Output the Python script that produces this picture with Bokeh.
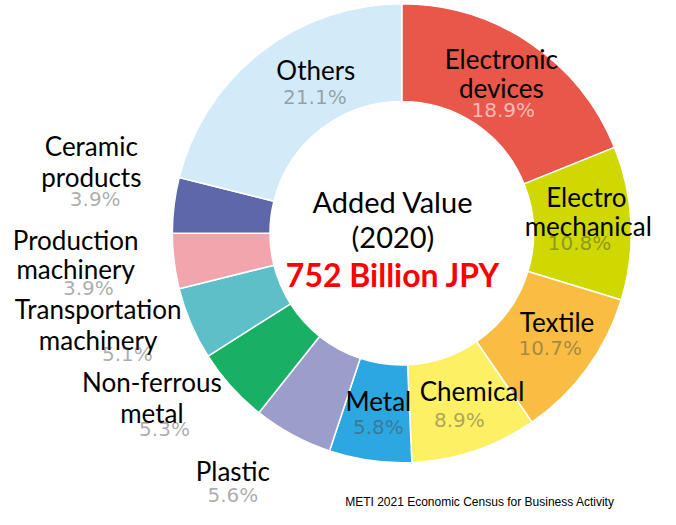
import numpy as np
from bokeh.plotting import figure
from bokeh.models import Range1d, ColumnDataSource
from bokeh.core.properties import value
from bokeh.embed import file_html
from bokeh.resources import INLINE

# ---- data ----
categories = ["Electronic devices", "Electro mechanical", "Textile", "Chemical", "Metal",
              "Plastic", "Non-ferrous metal", "Transportation machinery",
              "Production machinery", "Ceramic products", "Others"]
shares = [18.9, 10.8, 10.7, 8.9, 5.8, 5.6, 5.3, 5.1, 3.9, 3.9, 21.1]
colors = ["#E9564A", "#CFD800", "#F8BD42", "#FDF064", "#2DA7E0",
          "#9B9DCA", "#19AF64", "#5DBFC7", "#F2A5AD", "#5E67AA", "#D3EBF9"]
label_lines = [["Electronic", "devices"], ["Electro", "mechanical"], ["Textile"], ["Chemical"],
               ["Metal"], ["Plastic"], ["Non-ferrous", "metal"], ["Transportation", "machinery"],
               ["Production", "machinery"], ["Ceramic", "products"], ["Others"]]
center_title = ["Added Value", "(2020)"]
center_total = "752 Billion JPY"
footnote = "METI 2021 Economic Census for Business Activity"

# ---- layout (reference pixel coordinates, y down) ----
W, H = 676, 525
CX, CY = 411, 240
R_OUT, R_IN = 235, 135

label_pos = [[(513, 60), (513, 90)], [(600, 203), (602, 233)], [(570, 332)], [(483, 403)],
             [(387, 413)], [(238, 485)], [(155, 393), (155, 425)], [(100, 318), (100, 350)],
             [(77, 247), (77, 277)], [(93, 150), (93, 182)], [(323, 72)]]
pct_pos = [(515, 113), (593, 250), (563, 358), (470, 433), (387, 440), (238, 510),
           (168, 442), (130, 365), (90, 297), (97, 205), (322, 100)]
pct_colors = ["#FFFFFF", "#444444", "#444444", "#444444", "#444444", "#444444",
              "#444444", "#444444", "#444444", "#444444", "#444444"]
pct_alpha = [0.6, 0.45, 0.45, 0.45, 0.45, 0.45, 0.45, 0.45, 0.45, 0.45, 0.45]

def fy(y):
    return H - y

p = figure(width=660, height=509, x_range=Range1d(0, W), y_range=Range1d(0, H),
           output_backend="svg", toolbar_location=None, min_border=0)
p.axis.visible = False
p.grid.visible = False
p.outline_line_color = None
p.background_fill_color = "white"

frac = np.array(shares) / sum(shares)
cum = np.concatenate([[0], np.cumsum(frac)])
start = np.pi / 2 - 2 * np.pi * cum[:-1]
end = np.pi / 2 - 2 * np.pi * cum[1:]
src = ColumnDataSource(dict(start=start, end=end, color=colors, cat=categories))
p.annular_wedge(x=CX, y=fy(CY), inner_radius=R_IN, outer_radius=R_OUT,
                start_angle="start", end_angle="end", direction="clock",
                fill_color="color", line_color="white", line_width=1.5, source=src)

# category labels
lx, ly, lt = [], [], []
for lines, poss in zip(label_lines, label_pos):
    for t, (x, y) in zip(lines, poss):
        lx.append(x); ly.append(fy(y)); lt.append(t)
p.text(x=lx, y=ly, text=lt, text_align="center", text_baseline="middle",
       text_font=value("Lato"), text_font_size="26px", text_color="black")

# percentages
p.text(x=[x for x, y in pct_pos], y=[fy(y) for x, y in pct_pos],
       text=[f"{s:.1f}%" for s in shares], text_align="center", text_baseline="middle",
       text_font=value("DejaVu Sans"), text_font_size="20px",
       text_color=pct_colors, text_alpha=pct_alpha)

# center text
p.text(x=[402, 402], y=[fy(207), fy(243)], text=center_title, text_align="center",
       text_baseline="middle", text_font=value("Lato"), text_font_size="29px", text_color="black")
p.text(x=[402], y=[fy(283)], text=[center_total], text_align="center", text_baseline="middle",
       text_font=value("Lato"), text_font_size="32px", text_font_style="bold", text_color="#FF0000")

# footnote
p.text(x=[353], y=[fy(524)], text=[footnote], text_align="left", text_baseline="bottom",
       text_font=value("Liberation Sans"), text_font_size="12px", text_color="black")

open("out.html", "w").write(file_html(p, INLINE))
